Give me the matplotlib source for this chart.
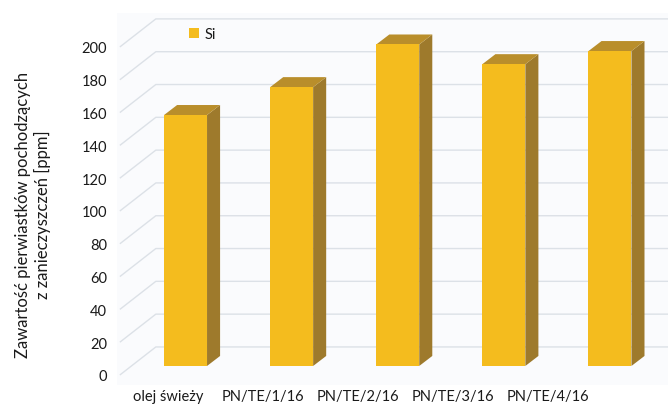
import matplotlib
matplotlib.use("Agg")
import matplotlib.pyplot as plt
from matplotlib.patches import Polygon

plt.rcParams['font.family'] = ['Lato', 'DejaVu Sans']

categories = ["olej świeży", "PN/TE/1/16", "PN/TE/2/16", "PN/TE/3/16", "PN/TE/4/16"]
si_values = [153, 170, 196, 184, 192]
y_ticks = [0, 20, 40, 60, 80, 100, 120, 140, 160, 180, 200]
series_name = "Si"
y_label = "Zawartość pierwiastków pochodzących\nz zanieczyszczeń [ppm]"

# fake 3d depth (category units / value units)
wall_dx, wall_dy = 0.339, 17.1
front_dx, front_dy = 0.109, 5.5
side_dx, side_dy = 0.123, 6.1
bar_w = 0.405

c_front = "#F4BC1E"
c_side = "#9E7A2C"
c_top = "#B98E2B"
c_grid = "#DCE1E7"
c_text = "#1A1A1A"

fig = plt.figure(figsize=(6.68, 4.06), dpi=100)
ax = fig.add_axes([117 / 668, 20 / 406, 551 / 668, 372 / 406])
ax.set_facecolor("#FAFBFD")
ax.set_xlim(-0.537, 4.656)
ax.set_ylim(-6.1, 220.7)
for s in ax.spines.values():
    s.set_visible(False)

x0 = -0.51
for v in y_ticks:
    ax.plot([x0, x0 + wall_dx, 4.656], [v, v + wall_dy, v + wall_dy],
            color=c_grid, lw=1.0, zorder=1, solid_capstyle="butt")

xs = [i + front_dx for i in range(len(categories))]
bars = ax.bar(xs, si_values, width=bar_w, bottom=front_dy, color=c_front,
              zorder=3, label=series_name)
for x, v in zip(xs, si_values):
    xl, xr = x - bar_w / 2, x + bar_w / 2
    top = front_dy + v
    ax.add_patch(Polygon([(xr, front_dy), (xr + side_dx, front_dy + side_dy),
                          (xr + side_dx, top + side_dy), (xr, top)],
                         closed=True, facecolor=c_side, edgecolor="none", zorder=2))
    ax.add_patch(Polygon([(xl, top), (xr, top), (xr + side_dx, top + side_dy),
                          (xl + side_dx, top + side_dy)],
                         closed=True, facecolor=c_top, edgecolor="none", zorder=2))

ax.set_yticks(y_ticks)
ax.tick_params(axis="y", length=0, pad=7, labelsize=10.5, labelcolor=c_text)
label_pos = [-0.057 + 0.895 * i for i in range(len(categories))]
ax.set_xticks(label_pos)
ax.set_xticklabels(categories)
ax.tick_params(axis="x", length=0, pad=3, labelsize=10.5, labelcolor=c_text)

fig.text(33 / 668, 1 - 215 / 406, y_label, rotation=90, ha="center", va="center",
         fontsize=12, color=c_text, linespacing=1.15)

ax.legend(handles=[bars], loc="upper left", frameon=False,
          bbox_to_anchor=(189 / 668, 1 - 28 / 406), bbox_transform=fig.transFigure,
          borderpad=0, borderaxespad=0, handlelength=0.7, handleheight=0.7,
          handletextpad=0.4, fontsize=10.5, labelcolor=c_text)

fig.savefig("out.png", dpi=100)
